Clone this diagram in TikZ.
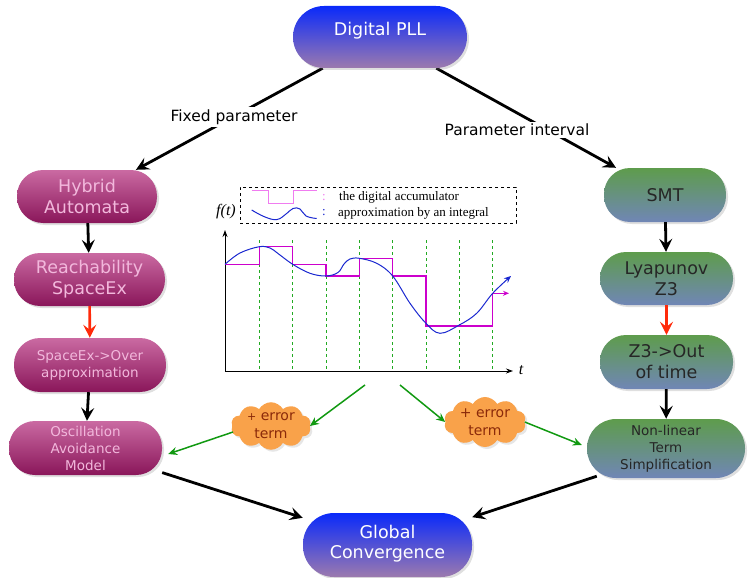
\documentclass[tikz,border=0pt]{standalone}
\usepackage{fontspec}
\setmainfont{DejaVu Sans}
\newfontfamily\serifx{Liberation Serif}
\usetikzlibrary{shapes.symbols,shadows,arrows.meta,shadings}
\pgfdeclarelayer{background}
\pgfsetlayers{background,main}
\definecolor{pinkT}{HTML}{CA6AA2}
\definecolor{pinkB}{HTML}{8A165A}
\definecolor{greenT}{HTML}{5E9C4C}
\definecolor{greenB}{HTML}{7086B6}
\definecolor{blueT}{HTML}{0A2AFA}
\definecolor{blueB}{HTML}{9C7AAE}
\definecolor{pinkText}{HTML}{F2B8DC}
\definecolor{cloudF}{HTML}{F9A24A}
\definecolor{cloudT}{HTML}{8B2A0A}
\definecolor{arrRed}{HTML}{FF2A0A}
\definecolor{arrGreen}{HTML}{119911}
\definecolor{stairM}{HTML}{CC00CC}
\definecolor{legM}{HTML}{F07CF0}
\definecolor{curveB}{HTML}{1A28D0}
\definecolor{gridG}{HTML}{22AA22}
\tikzset{
  pill/.style={rectangle, rounded corners=26pt, align=center, inner sep=0pt,
    drop shadow={opacity=0.25, shadow xshift=2pt, shadow yshift=-2pt}},
  bigtxt/.style={font=\fontsize{17.5}{21}\selectfont},
  smalltxt/.style={font=\fontsize{13.5}{17}\selectfont},
  pinkbox/.style={pill, top color=pinkT, bottom color=pinkB, text=pinkText},
  greenbox/.style={pill, top color=greenT, bottom color=greenB, text=black!85},
  bluebox/.style={pill, top color=blueT, bottom color=blueB, text=white},
  errcloud/.style={cloud, cloud puffs=10, cloud puff arc=120, aspect=1.8, fill=cloudF,
    text=cloudT, align=center, inner sep=0pt, font=\fontsize{14}{18}\selectfont,
    drop shadow={opacity=0.2, shadow xshift=2pt, shadow yshift=-2pt}},
  blk/.style={line width=2.8pt, -{Stealth[length=13pt,width=13pt,inset=5pt]}},
  redarr/.style={blk, draw=arrRed, line width=2.6pt},
  grn/.style={draw=arrGreen, line width=1.5pt, -{Stealth[length=9pt,width=8pt,inset=3pt]}},
  lbl/.style={fill=white, inner sep=2pt, font=\fontsize{15.5}{18}\selectfont},
}
\begin{document}
\begin{tikzpicture}[x=1pt,y=-1pt]
\useasboundingbox (0,0) rectangle (748,578);
% nodes
\node[bluebox, bigtxt, rounded corners=31pt, minimum width=174pt, minimum height=62pt] (pll) at (380,37) {\raisebox{17pt}{Digital PLL}};
\node[pinkbox, bigtxt, minimum width=140pt, minimum height=53pt] (hyb) at (87,196.5) {Hybrid\\Automata};
\node[pinkbox, bigtxt, minimum width=151pt, minimum height=53pt] (reach) at (89.5,279.5) {Reachability\\SpaceEx};
\node[pinkbox, smalltxt, minimum width=152pt, minimum height=54pt] (over) at (90,365) {SpaceEx->Over\\approximation};
\node[pinkbox, smalltxt, minimum width=153pt, minimum height=54pt] (osc) at (85.5,448) {Oscillation\\Avoidance\\Model};
\node[greenbox, bigtxt, minimum width=122pt, minimum height=54pt] (smt) at (665,195) {SMT};
\node[greenbox, bigtxt, minimum width=133pt, minimum height=53pt] (lyap) at (666.5,278.5) {Lyapunov\\Z3};
\node[greenbox, bigtxt, minimum width=133pt, minimum height=54pt] (zout) at (666.5,362) {Z3->Out\\of time};
\node[greenbox, smalltxt, rounded corners=29pt, minimum width=158pt, minimum height=59pt] (nl) at (666,448.5) {Non-linear\\Term\\Simplification};
\node[bluebox, bigtxt, rounded corners=31pt, minimum width=169pt, minimum height=64pt] (glob) at (387.5,545) {\raisebox{18pt}{\begin{tabular}{@{}c@{}}Global\\[-1pt]Convergence\end{tabular}}};
\node[lbl] (lf) at (234,117) {Fixed parameter};
\node[lbl] (lp) at (517,130) {Parameter interval};
\node[errcloud, minimum width=80pt, minimum height=44pt] (c1) at (271,426) {{\fontsize{11}{12}\selectfont+} error\\term};
\node[errcloud, minimum width=82pt, minimum height=46pt] (c2) at (485,422) {+ error\\term};
\coordinate (g1) at (365,385);
\coordinate (g2) at (400,385);
% connectors
\begin{pgfonlayer}{background}
\draw[blk] (pll) -- (hyb);
\draw[blk] (pll) -- (smt);
\end{pgfonlayer}
\draw[blk] (hyb) -- (reach);
\draw[redarr] (reach) -- (over);
\draw[blk] (over) -- (osc);
\draw[blk] (smt) -- (lyap);
\draw[redarr] (lyap) -- (zout);
\draw[blk] (zout) -- (nl);
\draw[blk] (osc) -- (glob);
\draw[blk] ([shift={(10,-2)}]nl.south west) -- (glob);
\draw[grn] (g1) -- (c1.east);
\draw[grn] ([shift={(1,6)}]c1.west) -- ([shift={(6,6)}]osc.east);
\draw[grn] (g2) -- (c2.west);
\draw[grn] (c2.east) -- ([shift={(-5,-3.5)}]nl.west);
% chart
\foreach \x in {259.3,292.7,326,359.3,392.7,426,459.3,492.7}
  \draw[gridG, dashed, line width=0.8pt] (\x,240) -- (\x,371);
\draw[line width=0.9pt, -{Stealth[length=7pt,width=5pt]}] (225,371) -- (225,230);
\draw[line width=0.9pt, -{Stealth[length=7pt,width=5pt]}] (225,371) -- (513,371);
\node[font=\serifx\itshape\fontsize{16}{18}\selectfont] (ft) at (226,212) {f(t)};
\node[font=\serifx\itshape\fontsize{16}{18}\selectfont] (tt) at (521,370) {t};
\draw[stairM, line width=1.3pt, -{Stealth[length=6pt,width=5pt]}] (225,264.3) -- (259.3,264.3) -- (259.3,246.7) -- (292.7,246.7) -- (292.7,264.3) -- (326,264.3) -- (326,276) -- (359.3,276) -- (359.3,258.3) -- (392.7,258.3) -- (392.7,276) -- (426,276) -- (426,326) -- (492.7,326) -- (492.7,293.3) -- (509,293.3);
\draw[curveB, line width=1pt, -{Stealth[length=7pt,width=6pt]}] plot[smooth, tension=0.6] coordinates {(225,264.3) (240,253) (259.3,246.7) (270,248) (278,253.5) (292.7,264.3) (310,273.3) (326,276) (338,272.5) (344,264) (350,259) (359.3,258.3) (376.7,263.3) (392.7,276) (410,303.3) (426,323.3) (440,333.3) (459.3,325) (476.7,313.3) (492.7,293.3) (511,276)};
% legend
\node[draw, dashed, fill=white, minimum width=276pt, minimum height=36pt, inner sep=0pt] (leg) at (378,205) {};
\draw[legM, line width=1pt] (251.7,190) -- (268.3,190) -- (268.3,203.3) -- (293.3,203.3) -- (293.3,190) -- (316.7,190);
\draw[curveB, line width=1pt] plot[smooth, tension=0.7] coordinates {(251.7,210) (265,217) (277,219.5) (286,214) (293,208.5) (300,209) (306,216) (316.7,218.5)};
\node[text=legM, font=\fontsize{13}{15}\selectfont\serifx] (lc1) at (324,197.5) {:};
\node[text=curveB, font=\fontsize{13}{15}\selectfont\serifx] (lc2) at (324,212.5) {:};
\node[anchor=west, inner sep=0pt, font=\fontsize{13}{15}\selectfont\serifx] (lt1) at (339,197.5) {the digital accumulator};
\node[anchor=west, inner sep=0pt, font=\fontsize{13}{15}\selectfont\serifx] (lt2) at (338,213) {approximation by an integral};
\end{tikzpicture}
\end{document}
